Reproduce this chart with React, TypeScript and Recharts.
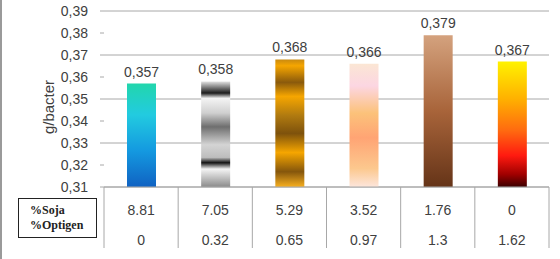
import React from 'react';
import { BarChart, Bar, XAxis, YAxis, CartesianGrid, Cell, LabelList } from 'recharts';

const categories = ['T1', 'T2', 'T3', 'T4', 'T5', 'T6'];
const values = [0.357, 0.358, 0.368, 0.366, 0.379, 0.367];
const soja = ['8.81', '7.05', '5.29', '3.52', '1.76', '0'];
const optigen = ['0', '0.32', '0.65', '0.97', '1.3', '1.62'];
const yTicks = [0.31, 0.32, 0.33, 0.34, 0.35, 0.36, 0.37, 0.38, 0.39];

const data = categories.map((c, i) => ({ name: c, value: values[i], soja: soja[i], optigen: optigen[i] }));

const gradients: { id: string; stops: [number, string][] }[] = [
  { id: 'g0', stops: [[0, '#22d6ac'], [0.3, '#22cbe0'], [0.65, '#1499e0'], [1, '#1062c2']] },
  {
    id: 'g1',
    stops: [
      [0, '#e4e4e4'], [0.11, '#1c1c1c'], [0.16, '#f4f4f4'], [0.3, '#cfcfcf'], [0.43, '#6e6e6e'],
      [0.6, '#d4d4d4'], [0.72, '#bdbdbd'], [0.77, '#141414'], [0.83, '#f4f4f4'], [1, '#8a8a8a'],
    ],
  },
  {
    id: 'g2',
    stops: [
      [0, '#c98a10'], [0.05, '#f6a600'], [0.18, '#8a5a0c'], [0.29, '#f6a600'], [0.44, '#b07a10'],
      [0.58, '#7e520c'], [0.73, '#f6a600'], [0.88, '#85560c'], [1, '#f8b020'],
    ],
  },
  {
    id: 'g3',
    stops: [[0, '#fbe6d4'], [0.18, '#fcd6e2'], [0.4, '#fcc27a'], [0.6, '#ffa474'], [0.85, '#fcc88e'], [1, '#fde6dc']],
  },
  { id: 'g4', stops: [[0, '#d4a27e'], [0.5, '#a8643a'], [1, '#653418']] },
  {
    id: 'g5',
    stops: [[0, '#fff200'], [0.3, '#ffb000'], [0.55, '#ff6a10'], [0.75, '#ff1a10'], [0.9, '#a00000'], [1, '#3a0000']],
  },
];

const FONT = "'Liberation Sans', Arial, sans-serif";

const TableTick = (props: any) => {
  const { x, y, payload, index } = props;
  const half = payload && payload.offset ? payload.offset : 37.1;
  const d = data[index] || data.find((r) => r.name === payload.value);
  return (
    <g>
      {index === 0 && <line x1={x - half} x2={x - half} y1={y - 8} y2={y + 53} stroke="#a8a8a8" />}
      <line x1={x + half} x2={x + half} y1={y - 8} y2={y + 53} stroke="#a8a8a8" />
      <text x={x} y={y + 20} textAnchor="middle" fontSize={14} fill="#404040" fontFamily={FONT}>
        {d ? d.soja : ''}
      </text>
      <text x={x} y={y + 50} textAnchor="middle" fontSize={14} fill="#404040" fontFamily={FONT}>
        {d ? d.optigen : ''}
      </text>
    </g>
  );
};

export default function App() {
  return (
    <div style={{ position: 'absolute', left: 0, top: 0, width: 560, height: 259, background: '#fff' }}>
      <div style={{ position: 'absolute', left: 0, top: 0, width: 2, height: 259, background: '#9a9a9a' }} />
      <BarChart
        width={560}
        height={259}
        data={data}
        margin={{ top: 11, right: 11, left: 0, bottom: 0 }}
        barSize={29}
      >
        <defs>
          {gradients.map((g) => (
            <linearGradient key={g.id} id={g.id} x1="0" y1="0" x2="0" y2="1">
              {g.stops.map(([o, c], i) => (
                <stop key={i} offset={o} stopColor={c} />
              ))}
            </linearGradient>
          ))}
        </defs>
        <CartesianGrid vertical={false} stroke="#a8a8a8" />
        <XAxis
          dataKey="name"
          height={72}
          axisLine={{ stroke: '#a8a8a8' }}
          tickLine={false}
          interval={0}
          tick={<TableTick />}
        />
        <YAxis
          width={104}
          domain={[0.31, 0.39]}
          ticks={yTicks}
          allowDataOverflow
          axisLine={false}
          tickLine={{ stroke: '#a8a8a8' }}
          tickSize={4}
          tickMargin={12}
          tick={{ fontSize: 14, fill: '#404040', fontFamily: FONT }}
          tickFormatter={(v: number) => v.toFixed(2).replace('.', ',')}
          label={{
            value: 'g/bacter',
            angle: -90,
            position: 'insideLeft',
            offset: 0,
            dx: 49,
            dy: 8,
            style: { fontSize: 15, fill: '#404040', fontFamily: FONT, textAnchor: 'middle' },
          }}
        />
        <Bar dataKey="value" isAnimationActive={false}>
          {data.map((_, i) => (
            <Cell key={i} fill={`url(#g${i})`} />
          ))}
          <LabelList
            dataKey="value"
            position="top"
            offset={7}
            formatter={(v: number) => v.toFixed(3).replace('.', ',')}
            style={{ fontSize: 14, fill: '#404040', fontFamily: FONT }}
          />
        </Bar>
      </BarChart>
      <div
        style={{
          position: 'absolute',
          left: 18,
          top: 198,
          width: 79,
          height: 40,
          border: '1px solid #222',
          fontFamily: "'Liberation Serif', 'Times New Roman', serif",
          fontWeight: 'bold',
          fontSize: 12,
          lineHeight: '15px',
          color: '#222',
          paddingLeft: 11,
          paddingTop: 4,
          boxSizing: 'border-box',
        }}
      >
        <div>%Soja</div>
        <div>%Optigen</div>
      </div>
    </div>
  );
}
